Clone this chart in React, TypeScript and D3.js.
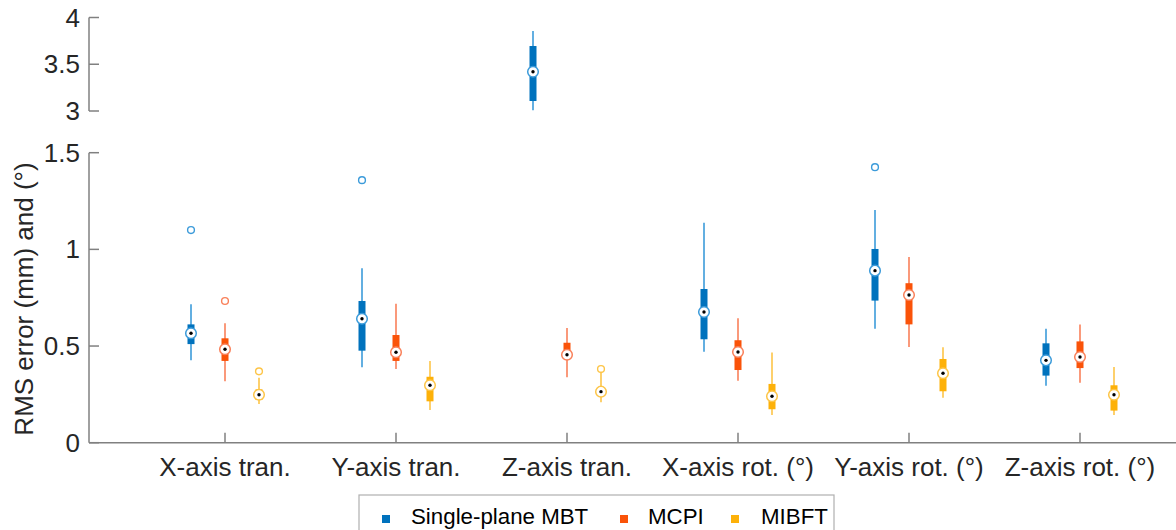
import React from 'react'
import * as d3 from 'd3'

// categories and series
const categories = ['X-axis tran.', 'Y-axis tran.', 'Z-axis tran.', 'X-axis rot. (°)', 'Y-axis rot. (°)', 'Z-axis rot. (°)']
const seriesNames = ['Single-plane MBT', 'MCPI', 'MIBFT']
const seriesColors = ['#0072BD', '#FA5309', '#FDB109']
const lightColors = ['#3C9BDA', '#F9805A', '#FDC548']

// [lower whisker, q1, median, q3, upper whisker] per category
const mbtStats = [
  [0.426, 0.51, 0.566, 0.612, 0.716],
  [0.39, 0.476, 0.641, 0.733, 0.902],
  [3.007, 3.107, 3.42, 3.695, 3.856],
  [0.471, 0.535, 0.676, 0.795, 1.138],
  [0.59, 0.735, 0.89, 1.002, 1.204],
  [0.295, 0.347, 0.426, 0.514, 0.59],
]
const mcpiStats = [
  [0.318, 0.423, 0.483, 0.54, 0.618],
  [0.381, 0.423, 0.468, 0.557, 0.719],
  [0.338, 0.445, 0.455, 0.517, 0.593],
  [0.321, 0.376, 0.469, 0.53, 0.644],
  [0.495, 0.612, 0.764, 0.825, 0.961],
  [0.31, 0.386, 0.443, 0.524, 0.612],
]
const mibftStats = [
  [0.2, 0.221, 0.248, 0.276, 0.336],
  [0.169, 0.214, 0.297, 0.341, 0.423],
  [0.209, 0.252, 0.264, 0.278, 0.367],
  [0.143, 0.173, 0.24, 0.304, 0.466],
  [0.233, 0.266, 0.359, 0.433, 0.494],
  [0.143, 0.166, 0.248, 0.297, 0.392],
]
// outliers per category
const mbtOutliers = [[1.1], [1.358], [], [], [1.425], []]
const mcpiOutliers = [[0.733], [], [], [], [], []]
const mibftOutliers = [[0.369], [], [0.381], [], [], []]

const lowerTicks = [0, 0.5, 1, 1.5]
const upperTicks = [3, 3.5, 4]

const allStats = [mbtStats, mcpiStats, mibftStats]
const allOutliers = [mbtOutliers, mcpiOutliers, mibftOutliers]

const W = 1176
const H = 530
const axisX = 89
const axisColor = '#808080'
const textColor = '#262626'
const font = 'Liberation Sans, Arial, sans-serif'

export default function App() {
  const x = d3.scalePoint<string>().domain(categories).range([225, 1080])
  const offset = d3.scalePoint<string>().domain(seriesNames).range([-34, 34])
  const yLow = d3.scaleLinear().domain([0, 1.5]).range([442.7, 152.7])
  const yHigh = d3.scaleLinear().domain([3, 4]).range([111, 17.5])
  const y = (v: number) => (v >= 2 ? yHigh(v) : yLow(v))

  const legendItems = [
    { sq: 386, tx: 411 },
    { sq: 624, tx: 648 },
    { sq: 735, tx: 761 },
  ]

  return (
    <svg width={W} height={H} style={{ position: 'absolute', left: 0, top: 0 }} fontFamily={font}>
      <rect width={W} height={H} fill="#fff" />

      {/* upper axis segment */}
      <line x1={axisX} x2={axisX} y1={yHigh(4)} y2={yHigh(3)} stroke={axisColor} strokeWidth={1.5} />
      {upperTicks.map((t) => (
        <g key={'u' + t}>
          <line x1={axisX} x2={axisX + 10} y1={yHigh(t)} y2={yHigh(t)} stroke={axisColor} strokeWidth={1.5} />
          <text x={80} y={yHigh(t)} dy="0.35em" textAnchor="end" fontSize={26} fill={textColor}>{t}</text>
        </g>
      ))}

      {/* lower axis segment */}
      <line x1={axisX} x2={axisX} y1={yLow(1.5)} y2={yLow(0)} stroke={axisColor} strokeWidth={1.5} />
      <line x1={axisX} x2={W} y1={yLow(0)} y2={yLow(0)} stroke={axisColor} strokeWidth={1.5} />
      {lowerTicks.map((t) => (
        <g key={'l' + t}>
          <line x1={axisX} x2={axisX + 10} y1={yLow(t)} y2={yLow(t)} stroke={axisColor} strokeWidth={1.5} />
          <text x={80} y={yLow(t)} dy="0.35em" textAnchor="end" fontSize={26} fill={textColor}>{t}</text>
        </g>
      ))}
      {categories.map((c) => (
        <g key={c}>
          <line x1={x(c)} x2={x(c)} y1={yLow(0)} y2={yLow(0) - 10} stroke={axisColor} strokeWidth={1.5} />
          <text x={x(c)} y={476} textAnchor="middle" fontSize={26} fill={textColor}>{c}</text>
        </g>
      ))}

      <text transform="translate(33,299) rotate(-90)" textAnchor="middle" fontSize={26} fill={textColor}>
        RMS error (mm) and (°)
      </text>

      {/* boxes */}
      {seriesNames.map((s, si) => (
        <g key={s}>
          {categories.map((c, ci) => {
            const cx = (x(c) as number) + (offset(s) as number)
            const [lo, q1, med, q3, hi] = allStats[si][ci]
            return (
              <g key={c}>
                <line x1={cx} x2={cx} y1={y(lo)} y2={y(hi)} stroke={lightColors[si]} strokeWidth={1.6} />
                <rect x={cx - 3.5} width={7} y={y(q3)} height={y(q1) - y(q3)} fill={seriesColors[si]} />
                {allOutliers[si][ci].map((o, oi) => (
                  <circle key={oi} cx={cx} cy={y(o)} r={3.4} fill="none" stroke={lightColors[si]} strokeWidth={1.4} />
                ))}
                <circle cx={cx} cy={y(med)} r={5.3} fill="#fff" stroke={lightColors[si]} strokeWidth={1.5} />
                <circle cx={cx} cy={y(med)} r={1.7} fill="#000" />
              </g>
            )
          })}
        </g>
      ))}

      {/* legend */}
      <rect x={359} y={495} width={475} height={60} fill="#fff" stroke="#b0b0b0" strokeWidth={1.2} />
      {seriesNames.map((s, si) => (
        <g key={'lg' + s}>
          <rect x={legendItems[si].sq - 4} y={515} width={8} height={8} fill={seriesColors[si]} />
          <text x={legendItems[si].tx} y={524} fontSize={22.3} fill="#000">{s}</text>
        </g>
      ))}
    </svg>
  )
}
